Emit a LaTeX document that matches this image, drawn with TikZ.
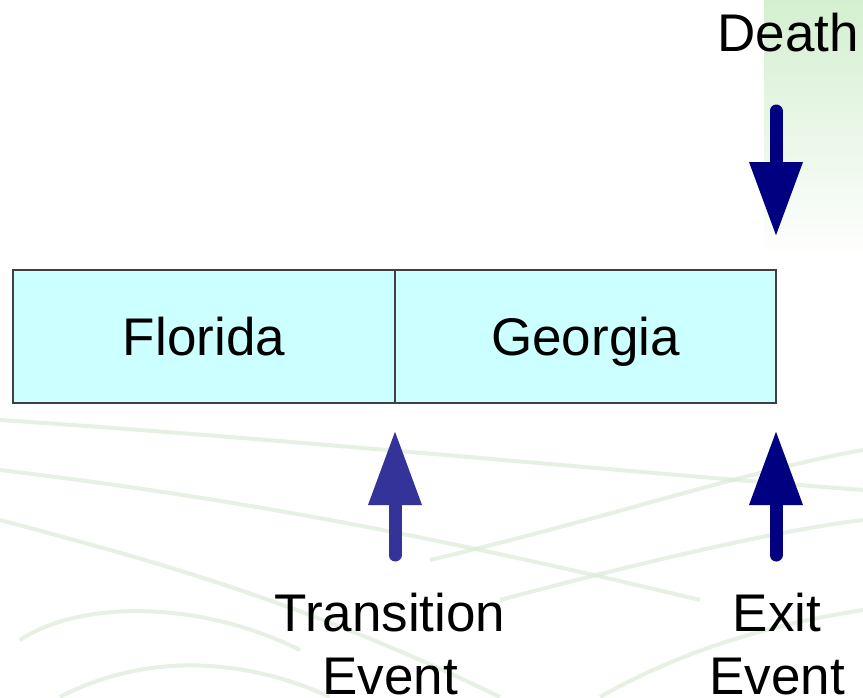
\documentclass[tikz,border=0pt]{standalone}
\usepackage{fontspec}
\setmainfont{Liberation Sans}
\usetikzlibrary{arrows.meta}
\definecolor{cellfill}{HTML}{CCFFFF}
\definecolor{navyA}{HTML}{000080}
\definecolor{navyB}{HTML}{333399}
\definecolor{bggreen}{HTML}{D4EFD0}
\definecolor{bgline}{HTML}{DCEBD8}
\tikzset{
  cell/.style={draw=black!75, line width=1.2pt, fill=cellfill, minimum height=133pt, inner sep=0pt, text height=40pt, text depth=3pt, font=\fontsize{53}{60}\selectfont},
  lbl/.style={font=\fontsize{53}{63}\selectfont, align=center, inner sep=0pt},
  bigarrow/.style={line width=13pt, line cap=round, -{Triangle[length=75pt,width=50pt]}},
  bgpat/.style={draw=bgline, line width=4pt, opacity=0.7}
}
\begin{document}
\begin{tikzpicture}[x=1pt,y=-1pt]
\useasboundingbox (0,0) rectangle (863,697);
\fill[white] (0,0) rectangle (863,697);
% background decoration
\shade[top color=bggreen, bottom color=white] (764,0) rectangle (863,260);
\begin{scope}[bgpat]
\draw (0,420) .. controls (300,440) and (600,470) .. (863,490);
\draw (0,470) .. controls (250,500) and (450,540) .. (700,600);
\draw (0,520) .. controls (150,560) and (300,600) .. (500,697);
\draw (430,560) .. controls (600,520) and (750,470) .. (863,450);
\draw (500,600) .. controls (650,560) and (780,530) .. (863,520);
\draw (20,640) .. controls (80,600) and (200,600) .. (300,650);
\draw (60,697) .. controls (150,650) and (250,660) .. (330,697);
\draw (600,697) .. controls (700,640) and (800,620) .. (863,610);
\end{scope}
% cells
\node[cell, minimum width=382pt] (florida) at (204,336.5) {Florida};
\node[cell, minimum width=381pt] (georgia) at (585.5,336.5) {Georgia};
% labels
\node[lbl, anchor=base] (death) at (788,51) {Death};
\node[lbl, anchor=base] (trans) at (390,694) {Transition\\Event};
\node[lbl, anchor=base] (exit) at (777,694) {Exit\\Event};
% arrow end points
\coordinate (deathS) at (776,111);
\coordinate (deathT) at (776,237);
\coordinate (transS) at (395,555);
\coordinate (transT) at (395,430);
\coordinate (exitS) at (776,555);
\coordinate (exitT) at (776,430);
\draw[bigarrow, navyA] (deathS) -- (deathT);
\draw[bigarrow, navyB] (transS) -- (transT);
\draw[bigarrow, navyA] (exitS) -- (exitT);
\end{tikzpicture}
\end{document}
